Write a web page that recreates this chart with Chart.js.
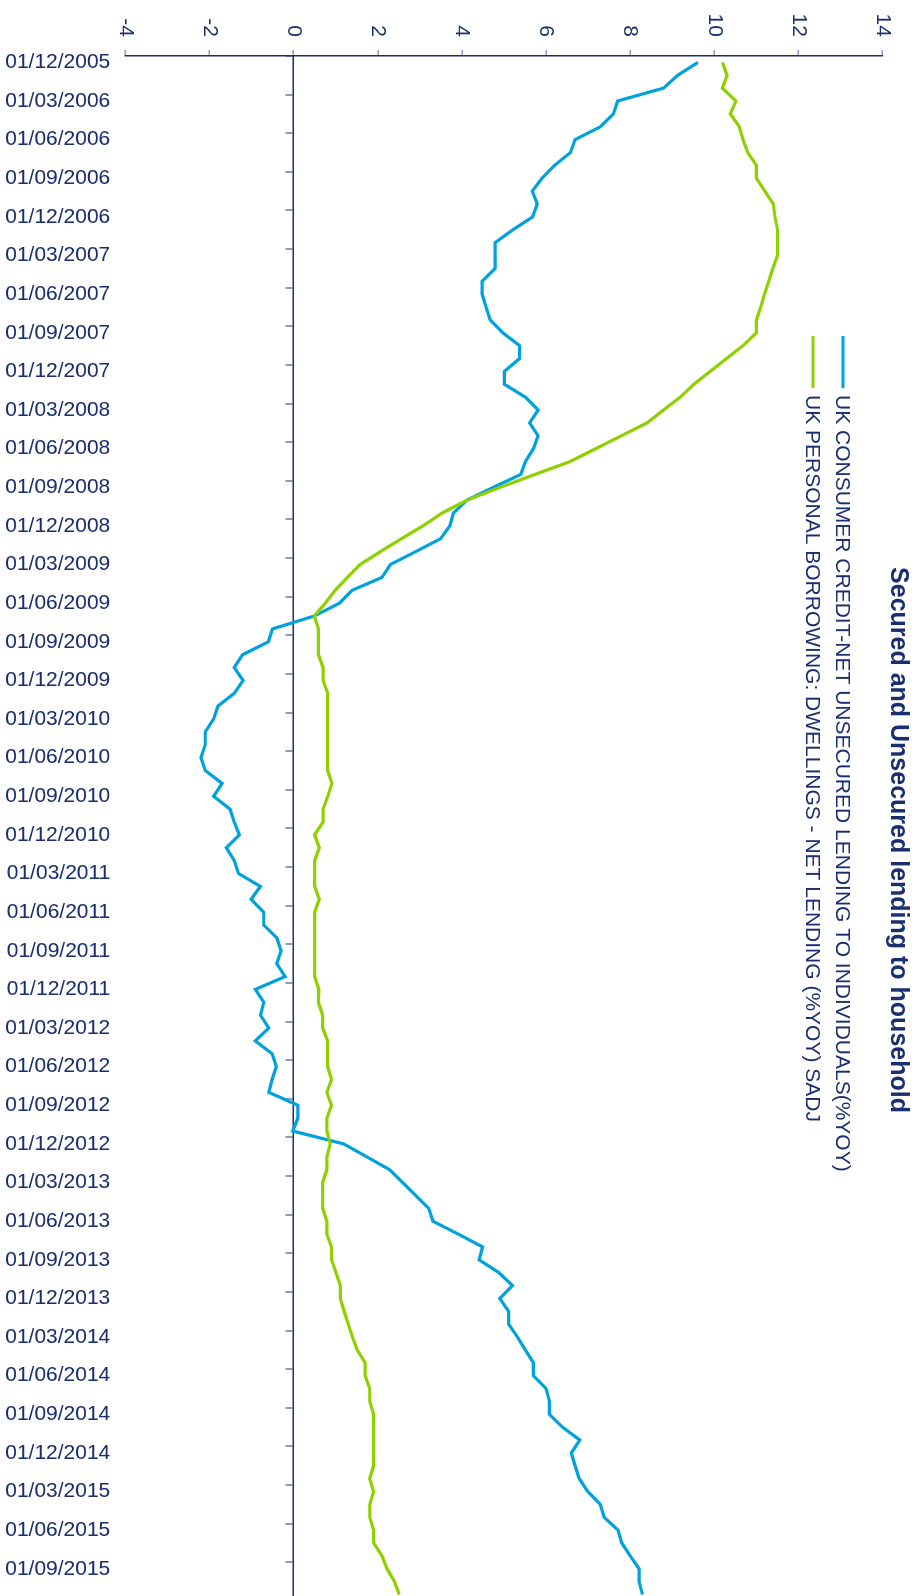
<!DOCTYPE html>
<html>
<head>
<meta charset="utf-8">
<title>Secured and Unsecured lending to household</title>
<script src="https://cdn.jsdelivr.net/npm/chart.js@4.4.1/dist/chart.umd.min.js"></script>
<style>
    html, body { margin: 0; padding: 0; background: #fff; overflow: hidden; }
    /* chart is laid out landscape, then turned a quarter clockwise onto the page */
    #wrap {
        position: absolute; left: 0; top: 0;
        width: 1609px; height: 918px;
        transform-origin: 0 0;
        transform: translate(918px, 0) rotate(90deg);
    }
</style>
</head>
<body>
<div id="wrap"><canvas id="lendingChart" width="1609" height="918"></canvas></div>
<script>
// Monthly categories, Dec 2005 - Nov 2015
const months = [
    '01/12/2005',
    '01/01/2006', '01/02/2006', '01/03/2006', '01/04/2006', '01/05/2006', '01/06/2006', '01/07/2006', '01/08/2006', '01/09/2006', '01/10/2006', '01/11/2006', '01/12/2006',
    '01/01/2007', '01/02/2007', '01/03/2007', '01/04/2007', '01/05/2007', '01/06/2007', '01/07/2007', '01/08/2007', '01/09/2007', '01/10/2007', '01/11/2007', '01/12/2007',
    '01/01/2008', '01/02/2008', '01/03/2008', '01/04/2008', '01/05/2008', '01/06/2008', '01/07/2008', '01/08/2008', '01/09/2008', '01/10/2008', '01/11/2008', '01/12/2008',
    '01/01/2009', '01/02/2009', '01/03/2009', '01/04/2009', '01/05/2009', '01/06/2009', '01/07/2009', '01/08/2009', '01/09/2009', '01/10/2009', '01/11/2009', '01/12/2009',
    '01/01/2010', '01/02/2010', '01/03/2010', '01/04/2010', '01/05/2010', '01/06/2010', '01/07/2010', '01/08/2010', '01/09/2010', '01/10/2010', '01/11/2010', '01/12/2010',
    '01/01/2011', '01/02/2011', '01/03/2011', '01/04/2011', '01/05/2011', '01/06/2011', '01/07/2011', '01/08/2011', '01/09/2011', '01/10/2011', '01/11/2011', '01/12/2011',
    '01/01/2012', '01/02/2012', '01/03/2012', '01/04/2012', '01/05/2012', '01/06/2012', '01/07/2012', '01/08/2012', '01/09/2012', '01/10/2012', '01/11/2012', '01/12/2012',
    '01/01/2013', '01/02/2013', '01/03/2013', '01/04/2013', '01/05/2013', '01/06/2013', '01/07/2013', '01/08/2013', '01/09/2013', '01/10/2013', '01/11/2013', '01/12/2013',
    '01/01/2014', '01/02/2014', '01/03/2014', '01/04/2014', '01/05/2014', '01/06/2014', '01/07/2014', '01/08/2014', '01/09/2014', '01/10/2014', '01/11/2014', '01/12/2014',
    '01/01/2015', '01/02/2015', '01/03/2015', '01/04/2015', '01/05/2015', '01/06/2015', '01/07/2015', '01/08/2015', '01/09/2015', '01/10/2015', '01/11/2015'
];

// UK consumer credit - net unsecured lending to individuals (%yoy)
const consumerCredit = [
    9.61,
    9.13, 8.79, 7.70, 7.60, 7.29, 6.69, 6.58, 6.20, 5.90, 5.67, 5.79, 5.68,
    5.21, 4.79, 4.79, 4.79, 4.48, 4.48, 4.57, 4.67, 4.97, 5.37, 5.37, 5.01,
    5.01, 5.51, 5.81, 5.61, 5.81, 5.70, 5.51, 5.40, 4.75, 4.12, 3.80, 3.71,
    3.49, 2.90, 2.30, 2.10, 1.39, 1.09, 0.49, -0.50, -0.60, -1.21, -1.41, -1.20,
    -1.41, -1.80, -1.90, -2.10, -2.10, -2.20, -2.10, -1.70, -1.90, -1.51, -1.41, -1.29,
    -1.60, -1.41, -1.31, -0.79, -1.01, -0.71, -0.71, -0.40, -0.30, -0.40, -0.20, -0.91,
    -0.71, -0.79, -0.59, -0.91, -0.51, -0.41, -0.51, -0.59, 0.10, 0.10, -0.02, 1.19,
    1.74, 2.28, 2.59, 2.90, 3.21, 3.31, 3.91, 4.49, 4.41, 4.88, 5.20, 4.90,
    5.11, 5.11, 5.32, 5.51, 5.70, 5.70, 6.00, 6.08, 6.08, 6.39, 6.80, 6.60,
    6.69, 6.79, 6.99, 7.29, 7.38, 7.71, 7.80, 8.00, 8.21, 8.21, 8.29
];

// UK personal borrowing: dwellings - net lending (%yoy) sadj
const dwellingLending = [
    10.19,
    10.30, 10.19, 10.51, 10.38, 10.59, 10.68, 10.79, 11.00, 11.00, 11.20, 11.40, 11.44,
    11.50, 11.50, 11.50, 11.39, 11.29, 11.19, 11.10, 11.00, 11.00, 10.68, 10.29, 9.90,
    9.51, 9.19, 8.79, 8.40, 7.79, 7.18, 6.57, 5.74, 4.91, 4.12, 3.53, 3.07,
    2.56, 2.06, 1.58, 1.28, 0.99, 0.75, 0.49, 0.59, 0.59, 0.59, 0.70, 0.70,
    0.81, 0.81, 0.81, 0.81, 0.81, 0.81, 0.81, 0.91, 0.81, 0.70, 0.70, 0.50,
    0.61, 0.50, 0.50, 0.50, 0.61, 0.50, 0.50, 0.50, 0.50, 0.50, 0.50, 0.60,
    0.59, 0.69, 0.69, 0.81, 0.81, 0.81, 0.90, 0.79, 0.90, 0.79, 0.79, 0.87,
    0.79, 0.79, 0.69, 0.69, 0.69, 0.79, 0.79, 0.90, 0.90, 1.01, 1.11, 1.11,
    1.20, 1.30, 1.40, 1.51, 1.70, 1.70, 1.81, 1.81, 1.90, 1.90, 1.90, 1.90,
    1.90, 1.81, 1.90, 1.81, 1.81, 1.90, 1.90, 2.10, 2.22, 2.40, 2.51
];

const valueTicks = [-4, -2, 0, 2, 4, 6, 8, 10, 12, 14];

const seriesNames = [
    'UK CONSUMER CREDIT-NET UNSECURED LENDING TO INDIVIDUALS(%YOY)',
    'UK PERSONAL BORROWING: DWELLINGS - NET LENDING (%YOY) SADJ'
];

const chartTitle = 'Secured and Unsecured lending to household';

const NAVY = '#1a2f6f';
const TICK_GREY = '#8d9cc0';
const BLUE = '#00a2dd';
const GREEN = '#8fd000';
const FONT = '"Liberation Sans", Arial, sans-serif';

// Title drawn over the plot, near the top edge
const titlePlugin = {
    id: 'overlayTitle',
    afterDraw(chart) {
        const ctx = chart.ctx;
        ctx.save();
        ctx.fillStyle = NAVY;
        ctx.font = 'bold 25px ' + FONT;
        ctx.textAlign = 'center';
        ctx.textBaseline = 'middle';
        ctx.fillText(chartTitle, 840, 20);
        ctx.restore();
    }
};

// Legend: two stacked rows, left aligned
const legendPlugin = {
    id: 'stackedLegend',
    afterDraw(chart) {
        const ctx = chart.ctx;
        const rows = [75, 105];
        ctx.save();
        ctx.font = '21px ' + FONT;
        ctx.textBaseline = 'middle';
        chart.data.datasets.forEach(function (ds, i) {
            ctx.strokeStyle = ds.borderColor;
            ctx.lineWidth = 3;
            ctx.beginPath();
            ctx.moveTo(336, rows[i]);
            ctx.lineTo(388, rows[i]);
            ctx.stroke();
            ctx.fillStyle = NAVY;
            ctx.fillText(ds.label, 395, rows[i] + 1);
        });
        ctx.restore();
    }
};

const chart = new Chart(document.getElementById('lendingChart'), {
    type: 'line',
    data: {
        labels: months,
        datasets: [
            {
                label: seriesNames[0],
                data: consumerCredit,
                borderColor: BLUE,
                borderWidth: 3.2,
                order: 2
            },
            {
                label: seriesNames[1],
                data: dwellingLending,
                borderColor: GREEN,
                borderWidth: 3.2,
                order: 1
            }
        ]
    },
    options: {
        responsive: false,
        animation: false,
        layout: { padding: { left: 0.6, right: 0, top: 35.3, bottom: 5 } },
        elements: {
            point: { radius: 0 },
            line: { tension: 0, fill: false }
        },
        plugins: {
            legend: { display: false },
            title: { display: false },
            tooltip: { enabled: false }
        },
        scales: {
            x: {
                type: 'category',
                position: 'bottom',
                offset: true,
                grid: { display: false, drawTicks: false },
                border: { display: false },
                afterFit: function (scale) {
                    scale.height = 120.3;
                },
                ticks: {
                    autoSkip: false,
                    minRotation: 90,
                    maxRotation: 90,
                    padding: 15,
                    color: NAVY,
                    font: { family: FONT, size: 21 },
                    callback: function (value, index) {
                        return index % 3 === 0 ? this.getLabelForValue(value) : null;
                    }
                }
            },
            // category axis line sitting on zero, with quarterly tick marks
            x2: {
                type: 'category',
                position: { y: 0 },
                offset: true,
                grid: {
                    offset: true,
                    drawOnChartArea: false,
                    drawTicks: true,
                    tickLength: 7,
                    lineWidth: 2,
                    color: function (ctx) {
                        return ctx.index % 3 === 0 ? TICK_GREY : 'rgba(0,0,0,0)';
                    }
                },
                border: { display: true, color: NAVY, width: 1.5 },
                ticks: { display: false, autoSkip: false }
            },
            y: {
                min: valueTicks[0],
                max: valueTicks[valueTicks.length - 1],
                grid: {
                    drawOnChartArea: false,
                    tickLength: 6,
                    lineWidth: 1.5,
                    color: TICK_GREY
                },
                border: { display: true, color: NAVY, width: 1.5 },
                afterBuildTicks: function (scale) {
                    scale.ticks = valueTicks.map(function (v) { return { value: v }; });
                },
                ticks: {
                    padding: 13,
                    color: NAVY,
                    font: { family: FONT, size: 21 }
                }
            }
        }
    },
    plugins: [titlePlugin, legendPlugin]
});
</script>
</body>
</html>
